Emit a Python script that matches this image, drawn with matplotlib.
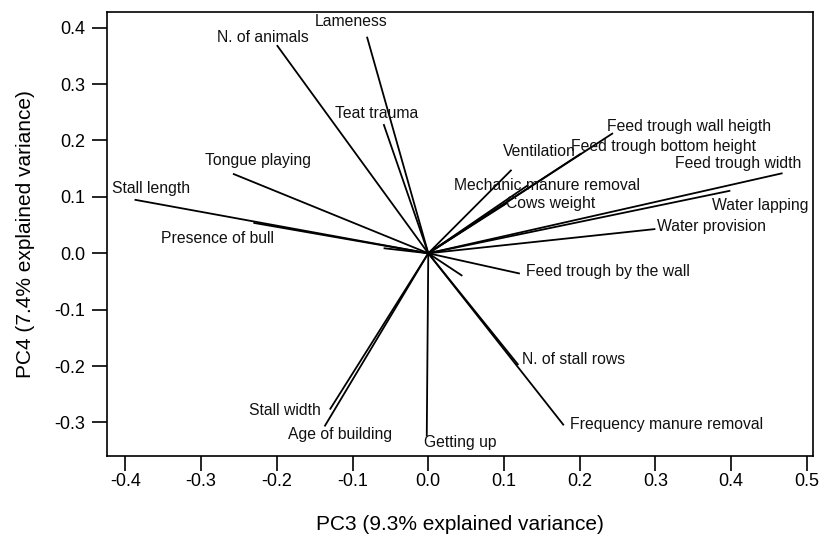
import numpy as np
import matplotlib
matplotlib.use("Agg")
import matplotlib.pyplot as plt


# ============================================================
# Data (loadings on PC3 / PC4)
# ============================================================

VARIABLES = [
    "Lameness",
    "N. of animals",
    "Teat trauma",
    "Tongue playing",
    "Stall length",
    "Presence of bull",
    "Ventilation",
    "Feed trough wall heigth",
    "Feed trough bottom height",
    "Feed trough width",
    "Mechanic manure removal",
    "Cows weight",
    "Water lapping",
    "Water provision",
    "Feed trough by the wall",
    "N. of stall rows",
    "Frequency manure removal",
    "Stall width",
    "Age of building",
    "Getting up",
]

PC3 = [-0.081, -0.200, -0.059, -0.258, -0.388, -0.231, 0.110, 0.244, 0.202,
       0.468, 0.132, 0.104, 0.399, 0.300, 0.121, 0.119, 0.179, -0.130,
       -0.137, -0.002]
PC4 = [0.384, 0.369, 0.229, 0.141, 0.095, 0.054, 0.148, 0.213, 0.177,
       0.142, 0.121, 0.089, 0.111, 0.043, -0.036, -0.198, -0.305, -0.277,
       -0.307, -0.325]

# short vectors drawn without a label
EXTRA_PC3 = [-0.059, 0.045]
EXTRA_PC4 = [0.009, -0.040]

X_TICKS = [-0.4, -0.3, -0.2, -0.1, 0.0, 0.1, 0.2, 0.3, 0.4, 0.5]
Y_TICKS = [-0.3, -0.2, -0.1, 0.0, 0.1, 0.2, 0.3, 0.4]

X_LABEL = "PC3 (9.3% explained variance)"
Y_LABEL = "PC4 (7.4% explained variance)"


# ============================================================
# Layout: where each label sits (left edge, vertical centre)
# ============================================================

LABEL_POS = {
    "Lameness": (-0.150, 0.411),
    "N. of animals": (-0.279, 0.383),
    "Teat trauma": (-0.123, 0.248),
    "Tongue playing": (-0.295, 0.165),
    "Stall length": (-0.418, 0.114),
    "Presence of bull": (-0.353, 0.027),
    "Ventilation": (0.099, 0.180),
    "Feed trough wall heigth": (0.236, 0.224),
    "Feed trough bottom height": (0.189, 0.190),
    "Feed trough width": (0.326, 0.160),
    "Mechanic manure removal": (0.034, 0.121),
    "Cows weight": (0.103, 0.089),
    "Water lapping": (0.375, 0.084),
    "Water provision": (0.302, 0.048),
    "Feed trough by the wall": (0.129, -0.033),
    "N. of stall rows": (0.124, -0.189),
    "Frequency manure removal": (0.187, -0.304),
    "Stall width": (-0.237, -0.278),
    "Age of building": (-0.185, -0.322),
    "Getting up": (-0.006, -0.336),
}

plt.rcParams["font.family"] = ["Liberation Sans", "DejaVu Sans"]


def main():
    fig = plt.figure(figsize=(8.22, 5.34), dpi=100)
    ax = fig.add_axes([0.1298, 0.1461, 0.8596, 0.8309])

    for x, y in zip(PC3 + EXTRA_PC3, PC4 + EXTRA_PC4):
        ax.plot([0, x], [0, y], color="black", linewidth=1.3,
                solid_capstyle="butt")

    for name in VARIABLES:
        lx, ly = LABEL_POS[name]
        ax.text(lx, ly, name, ha="left", va="center", fontsize=11.3,
                color="#111111")

    ax.set_xlim(-0.4248, 0.5086)
    ax.set_ylim(-0.3594, 0.4273)

    ax.set_xticks(X_TICKS)
    ax.set_xticklabels([f"{t:.1f}" for t in X_TICKS])
    ax.set_yticks(Y_TICKS)
    ax.set_yticklabels([f"{t:.1f}" for t in Y_TICKS])

    ax.tick_params(direction="out", length=10.5, width=1.2,
                   labelsize=13, colors="black")
    ax.tick_params(axis="x", pad=1.5)
    ax.tick_params(axis="y", pad=5)

    for spine in ax.spines.values():
        spine.set_linewidth(1.2)

    ax.set_xlabel(X_LABEL, fontsize=15, labelpad=18)
    ax.set_ylabel(Y_LABEL, fontsize=15, labelpad=14)

    fig.savefig("out.png", dpi=100)
    plt.close(fig)


if __name__ == "__main__":
    main()
